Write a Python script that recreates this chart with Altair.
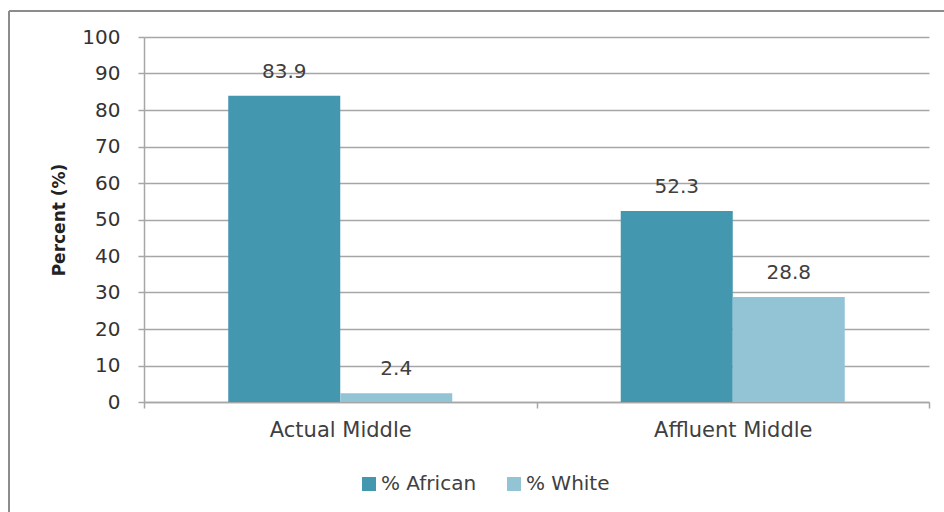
import altair as alt
import pandas as pd

categories = ["Actual Middle", "Affluent Middle"]
series = ["% African", "% White"]
african = [83.9, 52.3]
white = [2.4, 28.8]
y_ticks = [0, 10, 20, 30, 40, 50, 60, 70, 80, 90, 100]

rows = []
for c, a, w in zip(categories, african, white):
    rows.append({"cat": c, "series": series[0], "value": a})
    rows.append({"cat": c, "series": series[1], "value": w})
df = pd.DataFrame(rows)

FONT = "DejaVu Sans"
TXT = "#404040"
GRID = "#a6a6a6"

x_enc = alt.X("cat:N", sort=categories, title=None,
              scale=alt.Scale(paddingInner=0, paddingOuter=0),
              axis=alt.Axis(labelAngle=0, labelFontSize=21, labelFont=FONT, labelColor=TXT,
                            labelPadding=11, tickBand="extent", tickSize=6,
                            tickColor=GRID, domainColor=GRID, domainWidth=1.5, tickWidth=1.5))
y_enc = alt.Y("value:Q", title="Percent (%)",
              scale=alt.Scale(domain=[0, 100], nice=False),
              axis=alt.Axis(values=y_ticks, labelOverlap=False, labelFontSize=20, labelFont=FONT,
                            labelColor="#333333", labelPadding=18, tickSize=6, tickColor=GRID,
                            domainColor=GRID, domainWidth=1.5, tickWidth=1.5, gridColor=GRID,
                            gridWidth=1.5, titleFont=FONT, titleFontSize=17, titleFontWeight="bold",
                            titleColor="#222222", titlePadding=13))
xoff = alt.XOffset("series:N", sort=series, scale=alt.Scale(paddingOuter=0.752, paddingInner=0))
color = alt.Color("series:N", sort=series,
                  scale=alt.Scale(domain=series, range=["#4397AF", "#93C4D6"]),
                  legend=alt.Legend(title=None, orient="none", direction="horizontal",
                                    legendX=215, legendY=437, symbolType="square",
                                    symbolSize=196, symbolStrokeWidth=0, labelFontSize=20,
                                    labelFont=FONT, labelColor=TXT, labelOffset=2,
                                    columnPadding=27, symbolOffset=0))

base = alt.Chart(df)
bars = base.mark_bar(stroke=None).encode(x=x_enc, xOffset=xoff, y=y_enc, color=color)
labels = base.mark_text(dy=-24, fontSize=20, font=FONT, color=TXT).encode(
    x=x_enc, xOffset=xoff, y=y_enc, text=alt.Text("value:Q", format=".1f"))

frame_df = pd.DataFrame({"k": [0]})
frame_left = alt.Chart(frame_df).mark_rule(color="#8c8c8c", strokeWidth=2).encode(
    x=alt.value(-135), y=alt.value(-26), y2=alt.value(500))
frame_top = alt.Chart(frame_df).mark_rule(color="#8c8c8c", strokeWidth=2).encode(
    x=alt.value(-135), x2=alt.value(820), y=alt.value(-26))

chart = alt.layer(bars, labels, frame_left, frame_top).properties(
    width=785, height=365,
    autosize=alt.AutoSizeParams(type="none"),
    padding={"left": 144, "top": 37, "right": 15, "bottom": 110},
    background="white",
).configure_view(stroke=None)

chart.save("out.html", embed_options={"renderer": "svg", "actions": False})
